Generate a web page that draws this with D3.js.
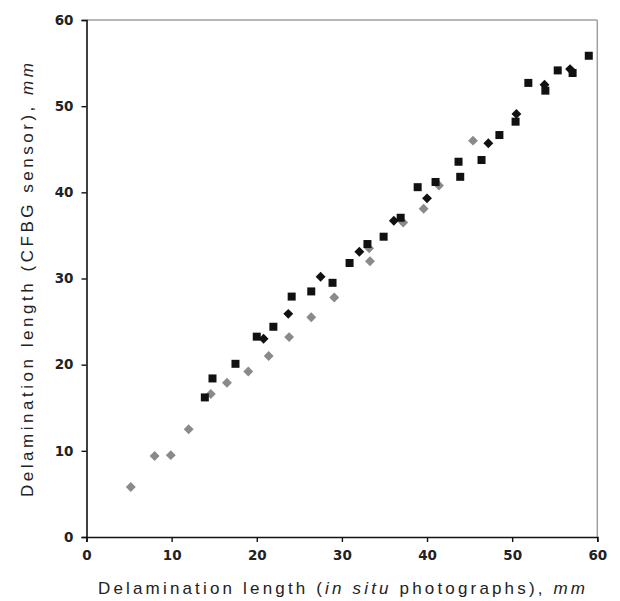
<!DOCTYPE html>
<html><head><meta charset="utf-8">
<script src="https://cdn.jsdelivr.net/npm/d3@7"></script>
<style>html,body{margin:0;padding:0;background:#fff;}</style>
</head><body>
<svg id="c" width="620" height="601"></svg>
<script>
const xTicks = [0,10,20,30,40,50,60];
const yTicks = [0,10,20,30,40,50,60];
const xTitleParts = [["Delamination length (", "normal"], ["in situ", "italic"], [" photographs), ", "normal"], ["mm", "italic"]];
const yTitleParts = [["Delamination length (CFBG sensor), ", "normal"], ["mm", "italic"]];

// Series 1: gray diamonds
const grayX = [5.2, 8.0, 9.9, 12.0, 14.6, 16.5, 19.0, 21.4, 23.8, 26.4, 29.1, 33.2, 33.3, 37.2, 39.6, 41.4, 45.4];
const grayY = [5.8, 9.4, 9.5, 12.5, 16.6, 17.9, 19.2, 21.0, 23.2, 25.5, 27.8, 33.5, 32.0, 36.5, 38.1, 40.8, 46.0];
// Series 2: black diamonds
const diamX = [20.8, 23.7, 27.5, 32.05, 36.1, 40.0, 47.2, 50.5, 53.8, 56.8];
const diamY = [23.0, 25.9, 30.2, 33.1, 36.7, 39.3, 45.7, 49.1, 52.5, 54.3];
// Series 3: black squares
const sqX = [13.9, 14.8, 17.5, 20.0, 21.95, 24.1, 26.4, 28.9, 30.9, 33.0, 34.9, 36.9, 38.9, 41.0, 43.9, 43.7, 46.4, 48.5, 50.4, 51.9, 53.9, 55.35, 57.1, 59.0];
const sqY = [16.2, 18.4, 20.1, 23.25, 24.4, 27.9, 28.5, 29.5, 31.8, 34.0, 34.85, 37.05, 40.6, 41.2, 41.8, 43.55, 43.75, 46.65, 48.2, 52.7, 51.8, 54.15, 53.85, 55.85];

const svg = d3.select("#c");
const x = d3.scaleLinear().domain([0,60]).range([86.5, 597.3]);
const y = d3.scaleLinear().domain([0,60]).range([537, 20]);

// plot frame (top & right, gray)
svg.append("line").attr("x1", x(0)).attr("x2", x(60)).attr("y1", y(60)).attr("y2", y(60))
  .attr("stroke", "#a0a0a0").attr("stroke-width", 1.5);
svg.append("line").attr("x1", x(60)).attr("x2", x(60)).attr("y1", y(60)).attr("y2", y(0))
  .attr("stroke", "#a0a0a0").attr("stroke-width", 1.5);

const tickFont = "'DejaVu Sans', Verdana, sans-serif";
const xAxis = svg.append("g").attr("transform", `translate(0,${y(0)})`)
  .call(d3.axisBottom(x).tickValues(xTicks).tickSize(5).tickPadding(8).tickFormat(d3.format("d")));
const yAxis = svg.append("g").attr("transform", `translate(${x(0)},0)`)
  .call(d3.axisLeft(y).tickValues(yTicks).tickSize(5).tickPadding(8).tickFormat(d3.format("d")));
[xAxis, yAxis].forEach(g => {
  g.select(".domain").attr("stroke", "#111").attr("stroke-width", 1.6);
  g.selectAll(".tick line").attr("stroke", "#111").attr("stroke-width", 1.4);
  g.selectAll(".tick text").attr("font-family", tickFont).attr("font-weight", "bold")
    .attr("font-size", 13.5).attr("fill", "#222");
});

// markers: diamonds as squares rotated 45 degrees
const ds = 7;
svg.append("g").selectAll("rect").data(grayX).join("rect")
  .attr("x", -ds/2).attr("y", -ds/2).attr("width", ds).attr("height", ds)
  .attr("transform", (d,i) => `translate(${x(d)},${y(grayY[i])}) rotate(45)`)
  .attr("fill", "#8a8a8a");
svg.append("g").selectAll("rect").data(diamX).join("rect")
  .attr("x", -ds/2).attr("y", -ds/2).attr("width", ds).attr("height", ds)
  .attr("transform", (d,i) => `translate(${x(d)},${y(diamY[i])}) rotate(45)`)
  .attr("fill", "#111");
const sq = 8;
svg.append("g").selectAll("rect").data(sqX).join("rect")
  .attr("x", d => x(d) - sq/2)
  .attr("y", (d,i) => y(sqY[i]) - sq/2)
  .attr("width", sq).attr("height", sq)
  .attr("fill", "#111");

// titles
const titleFont = "'Liberation Sans', Arial, sans-serif";
const xt = svg.append("text").attr("x", (98+585)/2).attr("y", 594)
  .attr("text-anchor", "middle").attr("font-family", titleFont).attr("font-size", 17)
  .attr("fill", "#222").attr("textLength", 487).attr("lengthAdjust", "spacing");
xTitleParts.forEach(p => xt.append("tspan").attr("font-style", p[1]).text(p[0]));

const yt = svg.append("text").attr("transform", `translate(33,${(63+497)/2}) rotate(-90)`)
  .attr("text-anchor", "middle").attr("font-family", titleFont).attr("font-size", 17)
  .attr("fill", "#222").attr("textLength", 434).attr("lengthAdjust", "spacing");
yTitleParts.forEach(p => yt.append("tspan").attr("font-style", p[1]).text(p[0]));
</script>
</body></html>
